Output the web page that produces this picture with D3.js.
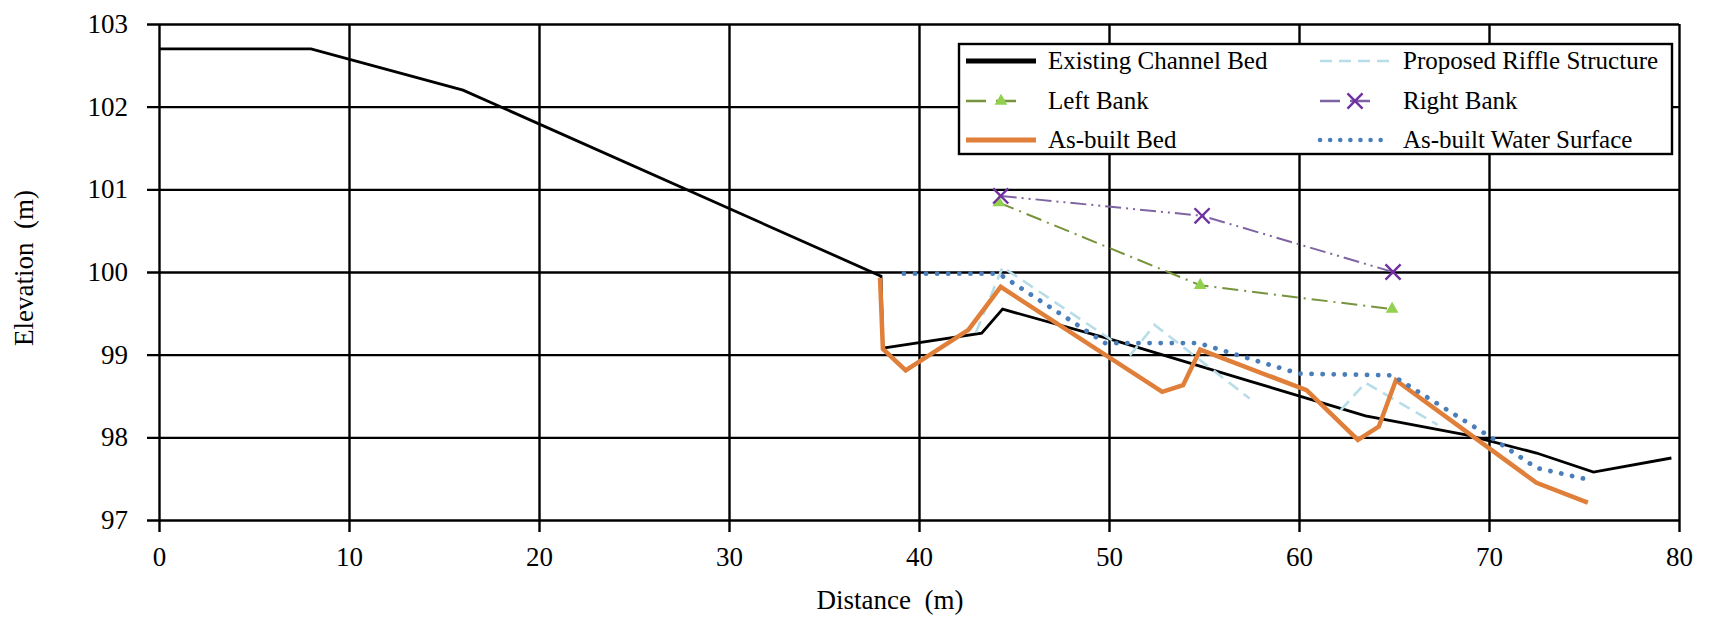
<!DOCTYPE html>
<html>
<head>
<meta charset="utf-8">
<script src="https://cdnjs.cloudflare.com/ajax/libs/d3/7.8.5/d3.min.js"></script>
<style>
    html, body { margin: 0; padding: 0; background: #fff; }
    svg text { font-family: 'Liberation Serif', 'Times New Roman', serif; fill: #000; }
</style>
</head>
<body>
<svg id="chart" width="1715" height="624"></svg>
<script>
// Distance (m), Elevation (m) pairs
var existingBed = [[0,102.7],[8,102.7],[16,102.2],[38,99.95],[38.1,99.08],[43.3,99.26],[44.4,99.55],[50.2,99.18],[57.4,98.68],[63.5,98.26],[68.8,98.03],[72.5,97.81],[75.5,97.58],[79.6,97.75]];
var proposedRiffle = [[43,99.27],[44.4,100.06],[50.5,99.12],null,[51.1,98.99],[52.4,99.36],[57.4,98.47],null,[62.2,98.33],[63.5,98.66],[67.3,98.15]];
var leftBank = [[44.2,100.84],[54.8,99.84],[64.9,99.55]];
var rightBank = [[44.3,100.92],[54.9,100.68],[64.95,100.0]];
var asBuiltBed = [[37.95,99.93],[38.1,99.07],[39.3,98.81],[42.6,99.3],[44.3,99.82],[52.8,98.55],[53.9,98.63],[54.8,99.06],[60.4,98.57],[63.1,97.97],[64.2,98.13],[65.1,98.69],[72.5,97.45],[75.2,97.21]];
var asBuiltWater = [[39.2,99.98],[44.2,99.98],[49.8,99.14],[54.7,99.14],[60.0,98.77],[64.9,98.75],[70.1,98.0],[72.5,97.63],[75.0,97.5]];

var xTicks = [0,10,20,30,40,50,60,70,80];
var yTicks = [97,98,99,100,101,102,103];

var serif = "'Liberation Serif', 'Times New Roman', serif";
var svg = d3.select('#chart');
var tickLen = 12;

var x = d3.scaleLinear().domain([0,80]).range([159,1679]);
var y = d3.scaleLinear().domain([97,103]).range([520,24]);

// gridlines + ticks + labels (ticks stick out past the plot edge)
var yAxis = svg.append('g')
    .attr('transform','translate('+(x(0)-tickLen)+',0)')
    .call(d3.axisLeft(y).tickValues(yTicks).tickSize(-(x(80)-x(0)+tickLen)).tickPadding(19).tickFormat(d3.format('d')));

var xAxis = svg.append('g')
    .attr('transform','translate(0,'+(y(97)+tickLen)+')')
    .call(d3.axisBottom(x).tickValues(xTicks).tickSize(-(y(97)-y(103)+tickLen)).tickPadding(15).tickFormat(d3.format('d')));

yAxis.attr('font-family',serif).attr('font-size',27);
xAxis.attr('font-family',serif).attr('font-size',27);
svg.selectAll('.domain').remove();
svg.selectAll('.tick line')
    .attr('stroke','#000')
    .attr('stroke-width',2.4);

// series
var series = [
    {name:'Existing Channel Bed', data:existingBed, color:'#000', width:2.8, dash:null},
    {name:'Proposed Riffle Structure', data:proposedRiffle, color:'#b7dde8', width:2.6, dash:'12,7'},
    {name:'Left Bank', data:leftBank, color:'#77933c', width:2, dash:'16,6,2,6', marker:'triangle'},
    {name:'Right Bank', data:rightBank, color:'#7f64a2', width:2, dash:'16,5,2,5,2,5', marker:'x'},
    {name:'As-built Bed', data:asBuiltBed, color:'#e07f39', width:4.5, dash:null},
    {name:'As-built Water Surface', data:asBuiltWater, color:'#4a7ebb', width:4.8, dash:'0.1,11', round:true}
];

var line = d3.line()
    .defined(function(d){ return d != null; })
    .x(function(d){ return x(d[0]); })
    .y(function(d){ return y(d[1]); });

var drawOrder = [0,2,3,1,4,5];
drawOrder.forEach(function(i){
    var s = series[i];
    svg.append('path')
        .datum(s.data)
        .attr('fill','none')
        .attr('stroke',s.color)
        .attr('stroke-width',s.width)
        .attr('stroke-dasharray',s.dash)
        .attr('stroke-linecap',s.round ? 'round' : 'butt')
        .attr('stroke-linejoin','miter')
        .attr('d',line);
});

function drawMarker(g, type, cx, cy){
    if(type == 'triangle') {
        g.append('path')
            .attr('transform','translate('+cx+','+cy+')')
            .attr('d',d3.symbol().type(d3.symbolTriangle).size(70)())
            .attr('fill','#92d050');
    } else {
        g.append('path')
            .attr('transform','translate('+cx+','+cy+')')
            .attr('d',d3.symbol().type(d3.symbolX).size(150)())
            .attr('fill','none')
            .attr('stroke','#7030a0')
            .attr('stroke-width',2.4);
    }
}

series.forEach(function(s){
    if(!s.marker) return;
    s.data.forEach(function(d){
        drawMarker(svg, s.marker, x(d[0]), y(d[1]));
    });
});

// axis titles
svg.append('text')
    .attr('x',890)
    .attr('y',609)
    .attr('text-anchor','middle')
    .attr('font-family',serif)
    .style('font-size','27px')
    .style('white-space','pre')
    .text('Distance  (m)');

svg.append('text')
    .attr('transform','translate(33,268) rotate(-90)')
    .attr('text-anchor','middle')
    .attr('font-family',serif)
    .style('font-size','27px')
    .style('white-space','pre')
    .text('Elevation  (m)');

// legend
var legend = svg.append('g').attr('font-family',serif);
legend.append('rect')
    .attr('x',959).attr('y',44)
    .attr('width',713).attr('height',110)
    .attr('fill','#fff')
    .attr('stroke','#000')
    .attr('stroke-width',2.4);

var legendRows = [61,101,140];
var legendCols = [{x1:966,x2:1036,tx:1048},{x1:1320,x2:1390,tx:1403}];
var legendWidths = [5,2.6,2.4,2.4,5,4.5];

series.forEach(function(s,i){
    var col = legendCols[i%2];
    var ry = legendRows[Math.floor(i/2)];
    legend.append('line')
        .attr('x1',col.x1).attr('x2',col.x2)
        .attr('y1',ry).attr('y2',ry)
        .attr('stroke',s.color)
        .attr('stroke-width',legendWidths[i])
        .attr('stroke-linecap',s.round ? 'round' : 'butt')
        .attr('stroke-dasharray', s.marker ? '20,10,20' : (s.round ? '0.1,10' : s.dash));
    if(s.marker) drawMarker(legend, s.marker, (col.x1+col.x2)/2, ry);
    legend.append('text')
        .attr('x',col.tx)
        .attr('y',ry+8)
        .style('font-size','25px')
        .text(s.name);
});
</script>
</body>
</html>
